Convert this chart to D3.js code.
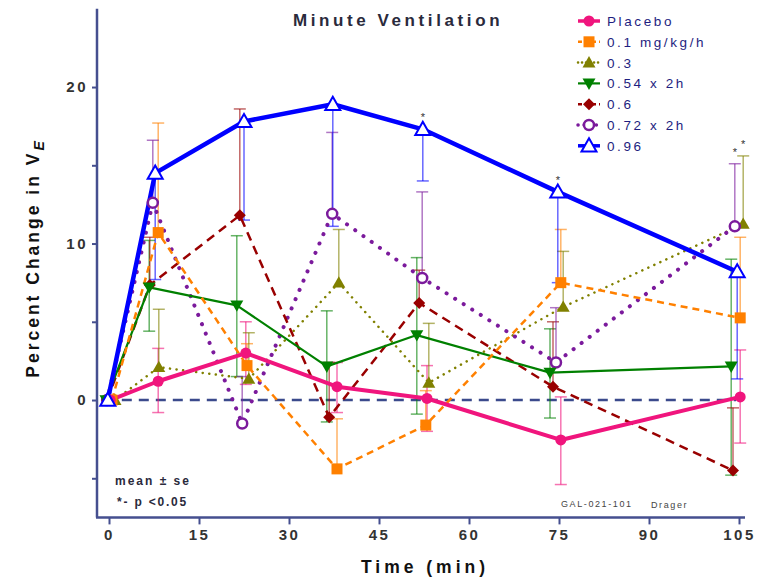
<!DOCTYPE html>
<html><head><meta charset="utf-8">
<script src="https://cdn.jsdelivr.net/npm/d3@7"></script>
<style>
body{margin:0;background:#fff;}
svg{display:block;font-family:"Liberation Sans",Arial,sans-serif;}
</style></head>
<body><svg id="c" width="759" height="577"></svg>
<script>
// ---- data ----
const seriesNames = ["Placebo","0.1 mg/kg/h","0.3","0.54 x 2h","0.6","0.72 x 2h","0.96"];
const xTicks = [0,15,30,45,60,75,90,105];
const yTicks = [-5,0,5,10,15,20];
const yTickLabels = ["","0","","10","","20"];

const placeboT = [0.2,8.2,22.8,38,53,75.3,105.2];
const placeboV = [0,1.2,3.0,0.85,0.1,-2.55,0.2];
const placeboHi = [null,3.3,5.0,2.4,2.2,0.2,3.2];
const placeboLo = [null,-0.8,1.0,-0.8,-2.0,-5.4,-2.75];

const orangeT = [0.5,8.2,23,38,52.8,75.3,105.2];
const orangeV = [0,10.7,2.2,-4.4,-1.6,7.5,5.25];
const orangeHi = [null,17.7,3.6,-1.2,0.6,10.9,10.4];
const orangeLo = [null,null,null,null,null,null,null];

const oliveT = [1,8.3,23.3,38.3,53.3,75.7,105.7];
const oliveV = [0,2.1,1.35,7.5,1.1,5.95,11.25];
const oliveHi = [null,5.8,4.3,10.9,4.9,9.5,15.6];
const oliveLo = [null,null,null,null,null,null,null];

const greenT = [-0.5,6.7,21.3,36.3,51.3,73.5,103.7];
const greenV = [0,7.2,6.05,2.15,4.15,1.75,2.15];
const greenHi = [null,10.2,10.5,5.7,9.1,4.55,9.0];
const greenLo = [null,4.4,1.5,-1.4,-0.9,-1.15,-4.8];

const redT = [-0.3,6.8,21.8,36.7,51.7,74,104];
const redV = [0,7.35,11.8,-1.1,6.2,0.85,-4.5];
const redHi = [null,10.4,18.6,2.4,8.3,5.0,-0.5];
const redLo = [null,null,null,null,null,null,null];

const purpleT = [-0.3,7.3,22.2,37.2,52.2,74.5,104.3];
const purpleV = [0,12.6,-1.5,11.9,7.8,2.4,11.1];
const purpleHi = [null,16.6,1.5,17.1,13.3,5.9,15.1];
const purpleLo = [null,null,null,null,null,null,null];

const blueT = [-0.2,7.7,22.5,37.3,52.3,74.8,104.7];
const blueV = [0,14.5,17.8,18.9,17.3,13.3,8.2];
const blueHi = [null,null,null,null,null,null,null];
const blueLo = [null,7.7,11.5,11.1,14.0,7.5,1.35];

// significance stars: [series index, point index]
const stars = [[6,4],[6,5],[5,6],[2,6]];

// ---- styles ----
const styles = [
  {color:"#f0157d", width:4, dash:null, cap:"butt", marker:"circle", filled:true, size:5.5},
  {color:"#ff8000", width:2.5, dash:"7 5", cap:"butt", marker:"square", filled:true, size:5.5},
  {color:"#808000", width:2.5, dash:"0.1 6.5", cap:"round", marker:"triangle", filled:true, size:6.5},
  {color:"#008000", width:2.2, dash:null, cap:"butt", marker:"triangleDown", filled:true, size:6.5},
  {color:"#990000", width:2.5, dash:"9 6", cap:"butt", marker:"diamond", filled:true, size:6},
  {color:"#7b1a9c", width:4, dash:"0.1 10", cap:"round", marker:"circle", filled:false, size:5},
  {color:"#0000ff", width:4.5, dash:null, cap:"butt", marker:"triangle", filled:false, size:7.5}
];

const series = [
  {T:placeboT,V:placeboV,Hi:placeboHi,Lo:placeboLo},
  {T:orangeT,V:orangeV,Hi:orangeHi,Lo:orangeLo},
  {T:oliveT,V:oliveV,Hi:oliveHi,Lo:oliveLo},
  {T:greenT,V:greenV,Hi:greenHi,Lo:greenLo},
  {T:redT,V:redV,Hi:redHi,Lo:redLo},
  {T:purpleT,V:purpleV,Hi:purpleHi,Lo:purpleLo},
  {T:blueT,V:blueV,Hi:blueHi,Lo:blueLo}
].map((s,i)=>Object.assign(s,{name:seriesNames[i],style:styles[i]}));

const svg = d3.select("#c");
const x = d3.scaleLinear().domain([0,105]).range([109,739]);
const y = d3.scaleLinear().domain([-7.5,25]).range([517.4,8.8]);
const axisColor = "#454f8f";

// ---- axes ----
const yAx = svg.append("g").attr("transform","translate(97,0)")
  .call(d3.axisLeft(y).tickValues(yTicks).tickSize(5).tickFormat((d,i)=>yTickLabels[i]).tickSizeOuter(0));
yAx.select(".domain").remove();
yAx.selectAll(".tick line").attr("stroke",axisColor).attr("stroke-width",2);
yAx.selectAll(".tick text").attr("x",-9).attr("fill","#333").attr("font-size",15)
  .attr("font-weight","bold").attr("letter-spacing","2.5px").attr("font-family","Liberation Sans, Arial, sans-serif");
svg.append("line").attr("x1",97).attr("x2",97).attr("y1",y(25)).attr("y2",517.4)
  .attr("stroke",axisColor).attr("stroke-width",2.5);

const xAx = svg.append("g").attr("transform","translate(0,517.4)")
  .call(d3.axisBottom(x).tickValues(xTicks).tickSize(7).tickSizeOuter(0));
xAx.select(".domain").remove();
xAx.selectAll(".tick line").attr("stroke",axisColor).attr("stroke-width",2);
xAx.selectAll(".tick text").attr("y",12).attr("fill","#333").attr("font-size",15)
  .attr("font-weight","bold").attr("letter-spacing","2.5px").attr("font-family","Liberation Sans, Arial, sans-serif");
svg.append("line").attr("x1",96).attr("x2",745).attr("y1",517.4).attr("y2",517.4)
  .attr("stroke",axisColor).attr("stroke-width",2.5);

// zero reference line
svg.append("line").attr("x1",x(-0.7)).attr("x2",x(104.5)).attr("y1",y(0)).attr("y2",y(0))
  .attr("stroke","#3b4a8c").attr("stroke-width",2.5).attr("stroke-dasharray","10 7");

// ---- marker drawing ----
function drawMarker(g, st, cx, cy){
  const s = st.size;
  const fill = st.filled ? st.color : "#fff";
  const sw = st.filled ? 0 : (st.marker==="circle"?2.5:2);
  let el;
  if(st.marker==="circle"){
    el = g.append("circle").attr("cx",cx).attr("cy",cy).attr("r",s);
  } else if(st.marker==="square"){
    el = g.append("rect").attr("x",cx-s).attr("y",cy-s).attr("width",2*s).attr("height",2*s);
  } else if(st.marker==="triangle"){
    el = g.append("path").attr("d",`M${cx},${cy-s}L${cx+s},${cy+s*0.75}L${cx-s},${cy+s*0.75}Z`);
  } else if(st.marker==="triangleDown"){
    el = g.append("path").attr("d",`M${cx},${cy+s}L${cx+s},${cy-s*0.75}L${cx-s},${cy-s*0.75}Z`);
  } else if(st.marker==="diamond"){
    el = g.append("path").attr("d",`M${cx},${cy-s}L${cx+s},${cy}L${cx},${cy+s}L${cx-s},${cy}Z`);
  }
  el.attr("fill",fill).attr("stroke",st.color).attr("stroke-width",sw);
}

// ---- error bars ----
const eg = svg.append("g");
series.forEach(s=>{
  s.T.forEach((t,i)=>{
    [s.Hi[i], s.Lo[i]].forEach(e=>{
      if(e===null||e===undefined) return;
      const cx = x(t);
      eg.append("line").attr("x1",cx).attr("x2",cx).attr("y1",y(s.V[i])).attr("y2",y(e))
        .attr("stroke",s.style.color).attr("stroke-opacity",0.6).attr("stroke-width",1.5);
      eg.append("line").attr("x1",cx-6).attr("x2",cx+6).attr("y1",y(e)).attr("y2",y(e))
        .attr("stroke",s.style.color).attr("stroke-opacity",0.6).attr("stroke-width",1.5);
    });
  });
});

// ---- lines and markers ----
const order = [2,5,4,3,1,0,6];
const line = d3.line().x(d=>x(d[0])).y(d=>y(d[1]));
order.forEach(k=>{
  const s = series[k], st = s.style;
  const pts = s.T.map((t,i)=>[t,s.V[i]]);
  const p = svg.append("path").attr("d",line(pts)).attr("fill","none")
    .attr("stroke",st.color).attr("stroke-width",st.width).attr("stroke-linecap",st.cap)
    .attr("stroke-linejoin","round");
  if(st.dash) p.attr("stroke-dasharray",st.dash);
});
order.forEach(k=>{
  const s = series[k], g = svg.append("g");
  s.T.forEach((t,i)=>drawMarker(g, s.style, x(t), y(s.V[i])));
});

// ---- stars ----
stars.forEach(([k,i])=>{
  const s = series[k];
  const top = Math.max(s.V[i], s.Hi[i]===null?-99:s.Hi[i]);
  svg.append("text").attr("x",x(s.T[i])).attr("y",y(top)-8).attr("text-anchor","middle")
    .attr("font-size",11).attr("fill","#333").text("*");
});

// ---- legend ----
const lg = svg.append("g");
series.forEach((s,i)=>{
  const yy = 21 + i*20.8, st = s.style;
  const l = lg.append("line").attr("x1",578).attr("x2",600).attr("y1",yy).attr("y2",yy)
    .attr("stroke",st.color).attr("stroke-width",Math.min(st.width,3.5)).attr("stroke-linecap",st.cap);
  if(st.dash) l.attr("stroke-dasharray",st.dash==="9 6"?"4 3":(st.dash==="7 5"?"4 3":st.dash.replace(/[0-9.]+$/, m=>String(Math.max(3,+m*0.6)))));
  drawMarker(lg, st, 589, yy);
  lg.append("text").attr("x",607).attr("y",yy+5).attr("font-size",13.5).attr("letter-spacing","2.6px")
    .attr("fill","#1e1e80").text(s.name);
});

// ---- titles and annotations ----
svg.append("text").attr("x",398).attr("y",26).attr("text-anchor","middle").attr("font-size",17)
  .attr("font-weight","bold").attr("letter-spacing","3.6px").attr("fill","#2a2a3c").text("Minute Ventilation");

svg.append("text").attr("x",425).attr("y",573).attr("text-anchor","middle").attr("font-size",17.5)
  .attr("font-weight","bold").attr("letter-spacing","4px").attr("fill","#111").text("Time (min)");

const yl = svg.append("text").attr("transform","translate(39,258) rotate(-90)").attr("text-anchor","middle")
  .attr("font-size",17.5).attr("font-weight","bold").attr("letter-spacing","3px").attr("fill","#111");
yl.append("tspan").text("Percent Change in V");
yl.append("tspan").attr("font-style","italic").attr("font-size",14).attr("dy",5).text("E");

svg.append("text").attr("x",115).attr("y",485).attr("font-size",12).attr("font-weight","bold")
  .attr("letter-spacing","2px").attr("fill","#2a2a3c").text("mean ± se");
svg.append("text").attr("x",117).attr("y",506).attr("font-size",12).attr("font-weight","bold")
  .attr("letter-spacing","1.8px").attr("fill","#2a2a3c").text("*- p <0.05");
svg.append("text").attr("x",561).attr("y",507).attr("font-size",9).attr("letter-spacing","1.6px")
  .attr("fill","#444").text("GAL-021-101");
svg.append("text").attr("x",651).attr("y",508).attr("font-size",9).attr("letter-spacing","1.6px")
  .attr("fill","#444").text("Drager");
</script></body></html>
